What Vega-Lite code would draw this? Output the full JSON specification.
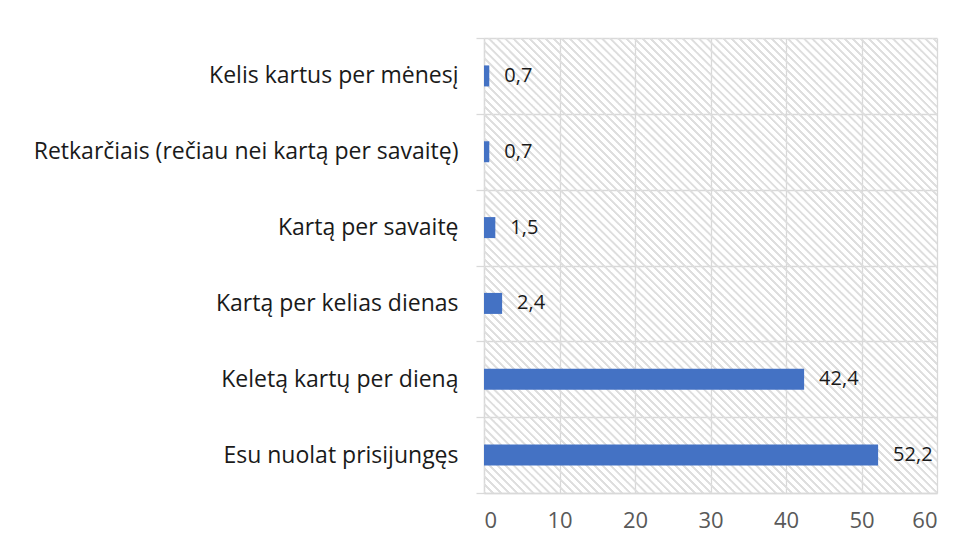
{
  "$schema": "https://vega.github.io/schema/vega-lite/v6.json",
  "autosize": {"type": "none"},
  "padding": {"left": 484, "top": 38, "right": 31, "bottom": 56},
  "width": 453,
  "height": 455,
  "background": "white",
  "config": {
    "font": "Open Sans",
    "view": {"stroke": null},
    "locale": {"number": {"decimal": ",", "thousands": " ", "grouping": [3], "currency": ["", " €"]}}
  },
  "data": {"values": [
    {"cat": "Kelis kartus per mėnesį", "value": 0.7},
    {"cat": "Retkarčiais (rečiau nei kartą per savaitę)", "value": 0.7},
    {"cat": "Kartą per savaitę", "value": 1.5},
    {"cat": "Kartą per kelias dienas", "value": 2.4},
    {"cat": "Keletą kartų per dieną", "value": 42.4},
    {"cat": "Esu nuolat prisijungęs", "value": 52.2}
  ]},
  "resolve": {"scale": {"y": "independent"}, "axis": {"y": "independent"}},
  "layer": [
    {
      "mark": {"type": "rule", "clip": true, "color": "#dedede", "strokeWidth": 760, "strokeDash": [1.3, 4.4]},
      "encoding": {
        "x": {"datum": 0, "type": "quantitative", "scale": {"domain": [0, 60], "nice": false}, "axis": {"values": [0, 10, 20, 30, 40, 50, 60], "grid": true, "gridColor": "#d9d9d9", "gridWidth": 1.3, "domainColor": "#d9d9d9", "domainWidth": 1.3, "ticks": false, "labelColor": "#595959", "labelFontSize": 22, "labelPadding": 17, "title": null}},
        "x2": {"datum": 60},
        "y": {"datum": 0, "type": "quantitative", "scale": {"domain": [0, 1]}, "axis": null},
        "y2": {"datum": 1}
      }
    },
    {
      "layer": [
        {
          "mark": {"type": "bar", "color": "#4472c4", "size": 21},
          "encoding": {
            "y": {"field": "cat", "type": "nominal", "sort": null, "scale": {"paddingInner": 0, "paddingOuter": 0}, "axis": {"title": null, "tickBand": "extent", "grid": true, "gridColor": "#d9d9d9", "gridWidth": 1.3, "ticks": true, "tickSize": 8, "tickColor": "#d9d9d9", "tickWidth": 1.3, "domainColor": "#d9d9d9", "domainWidth": 1.3, "labelFontSize": 23, "labelColor": "#1a1a1a", "labelPadding": 18, "labelLimit": 0}},
            "x": {"field": "value", "type": "quantitative"}
          }
        },
        {
          "mark": {"type": "text", "align": "left", "dx": 15, "fontSize": 20, "color": "#1a1a1a"},
          "encoding": {
            "y": {"field": "cat", "type": "nominal", "sort": null},
            "x": {"field": "value", "type": "quantitative"},
            "text": {"field": "value", "type": "quantitative", "format": ".1f"}
          }
        }
      ]
    }
  ]
}
